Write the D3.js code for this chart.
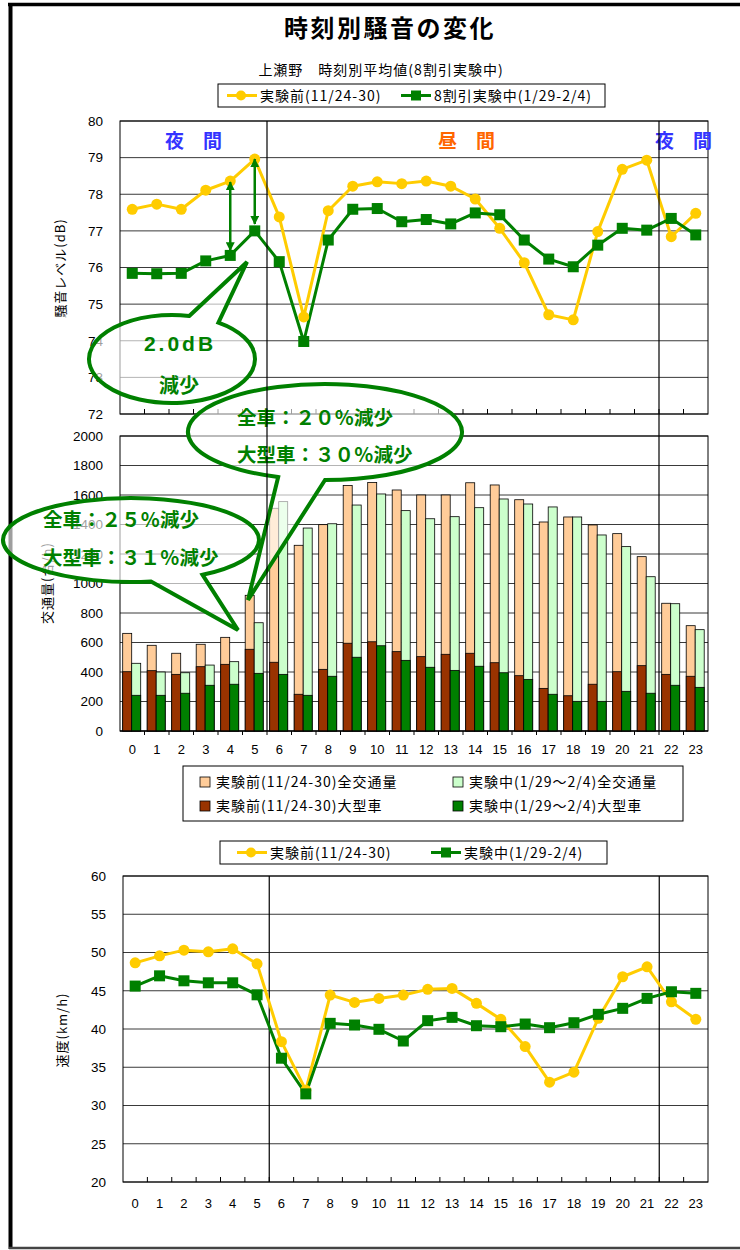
<!DOCTYPE html>
<html>
<head>
<meta charset="utf-8">
<script src="https://cdn.jsdelivr.net/npm/d3@7"></script>
<style>
  body { margin: 0; background: #fff; }
</style>
</head>
<body>
<svg id="chart" width="740" height="1250"></svg>
<script>
// hours of the day
const hours = ["0","1","2","3","4","5","6","7","8","9","10","11","12","13","14","15","16","17","18","19","20","21","22","23"];

// noise level (dB)
const noiseTicks = [72, 73, 74, 75, 76, 77, 78, 79, 80];
const noiseBefore = [77.59,77.73,77.59,78.11,78.36,78.96,77.38,74.65,77.55,78.22,78.34,78.29,78.36,78.22,77.87,77.07,76.13,74.71,74.57,76.98,78.68,78.93,76.84,77.48];
const noiseDuring = [75.84,75.83,75.84,76.18,76.33,77.00,76.16,73.98,76.75,77.59,77.61,77.25,77.31,77.19,77.49,77.44,76.75,76.23,76.02,76.61,77.07,77.02,77.34,76.89];

// traffic volume (vehicles)
const trafficTicks = [0, 200, 400, 600, 800, 1000, 1200, 1400, 1600, 1800, 2000];
const trafficBeforeAll = [662,581,527,588,635,920,1510,1259,1399,1665,1685,1634,1600,1600,1683,1668,1568,1417,1451,1397,1338,1182,866,714];
const trafficDuringAll = [459,400,395,447,470,734,1555,1376,1405,1532,1607,1494,1439,1453,1514,1573,1539,1519,1451,1329,1250,1046,863,687];
const trafficBeforeLarge = [402,409,384,436,452,554,466,249,418,595,605,538,504,520,527,463,375,289,239,317,402,443,384,371];
const trafficDuringLarge = [242,242,256,310,317,391,384,242,371,500,578,479,432,411,439,395,350,249,201,201,269,256,310,296];

// speed (km/h)
const speedTicks = [20, 25, 30, 35, 40, 45, 50, 55, 60];
const speedBefore = [48.65,49.56,50.31,50.09,50.48,48.52,38.34,32.0,44.44,43.48,44.0,44.44,45.18,45.31,43.35,41.27,37.7,33.05,34.35,41.4,46.83,48.13,43.56,41.27];
const speedDuring = [45.61,46.95,46.3,46.04,46.04,44.47,36.18,31.52,40.74,40.52,39.96,38.43,41.09,41.52,40.43,40.3,40.65,40.17,40.82,41.92,42.7,44.0,44.87,44.66];

const YELLOW = "#ffcc00", GREEN = "#008000";
const numFont = "'Liberation Sans', Arial, sans-serif";
const jpFont = "'Noto Sans CJK JP', 'Liberation Sans', sans-serif";

const svg = d3.select("#chart");

// arrow head for the double arrows
svg.append("defs").append("marker")
  .attr("id", "arrow")
  .attr("viewBox", "0 0 10 10")
  .attr("refX", 9).attr("refY", 5)
  .attr("markerWidth", 9).attr("markerHeight", 9)
  .attr("markerUnits", "userSpaceOnUse")
  .attr("orient", "auto-start-reverse")
  .append("path").attr("d", "M0,0 L10,5 L0,10 z").attr("fill", GREEN);

// page frame
svg.append("line").attr("x1", 8).attr("x2", 740).attr("y1", 4.5).attr("y2", 4.5).attr("stroke", "#000").attr("stroke-width", 3.5);
svg.append("line").attr("x1", 10.5).attr("x2", 10.5).attr("y1", 3).attr("y2", 1249).attr("stroke", "#000").attr("stroke-width", 4);
svg.append("line").attr("x1", 9).attr("x2", 740).attr("y1", 1248).attr("y2", 1248).attr("stroke", "#444").attr("stroke-width", 2.5);

// titles
svg.append("text").attr("x", 390).attr("y", 37).attr("text-anchor", "middle")
  .attr("font-family", jpFont).attr("font-weight", "bold").attr("font-size", 24)
  .attr("letter-spacing", 2.5).text("時刻別騒音の変化");
svg.append("text").attr("x", 381).attr("y", 75).attr("text-anchor", "middle")
  .attr("font-family", jpFont).attr("font-size", 14).attr("letter-spacing", 1)
  .text("上瀬野　時刻別平均値(8割引実験中)");

function gridAndFrame(x0, x1, y, ticks) {
  svg.append("g").selectAll("line").data(ticks).join("line")
    .attr("x1", x0).attr("x2", x1)
    .attr("y1", d => y(d)).attr("y2", d => y(d))
    .attr("stroke", "#3a3a3a").attr("stroke-width", 1);
  const [yb, yt] = y.range();
  svg.append("rect").attr("x", x0).attr("y", yt).attr("width", x1 - x0).attr("height", yb - yt)
    .attr("fill", "none").attr("stroke", "#000").attr("stroke-width", 1);
}

function yAxis(y, ticks, left) {
  const g = svg.append("g").attr("transform", `translate(${left},0)`)
    .call(d3.axisLeft(y).tickValues(ticks).tickFormat(d3.format("d")).tickSize(0).tickPadding(17));
  g.select(".domain").remove();
  g.selectAll("text").attr("font-family", numFont).attr("font-size", 13.5).attr("fill", "#000");
}

function xLabels(x, top, pad) {
  const g = svg.append("g").attr("transform", `translate(0,${top})`)
    .call(d3.axisBottom(x).tickSize(0).tickPadding(pad));
  g.select(".domain").remove();
  g.selectAll("text").attr("font-family", numFont).attr("font-size", 13).attr("fill", "#000");
}

function hourTicks(x, yAxisPos, len) {
  svg.append("g").selectAll("line").data(hours.slice(1)).join("line")
    .attr("x1", d => x(d)).attr("x2", d => x(d))
    .attr("y1", yAxisPos).attr("y2", yAxisPos + len)
    .attr("stroke", "#000").attr("stroke-width", 1);
}

function lineSeries(x, y, values, color) {
  const line = d3.line().x((d, i) => x(hours[i]) + x.bandwidth() / 2).y(d => y(d));
  svg.append("path").datum(values).attr("d", line)
    .attr("fill", "none").attr("stroke", color).attr("stroke-width", 3).attr("stroke-linejoin", "round");
}
function circles(x, y, values) {
  svg.append("g").selectAll("circle").data(values).join("circle")
    .attr("cx", (d, i) => x(hours[i]) + x.bandwidth() / 2)
    .attr("cy", d => y(d)).attr("r", 5.5).attr("fill", YELLOW);
}
function squares(x, y, values) {
  svg.append("g").selectAll("rect").data(values).join("rect")
    .attr("x", (d, i) => x(hours[i]) + x.bandwidth() / 2 - 5.5)
    .attr("y", d => y(d) - 5.5).attr("width", 11).attr("height", 11).attr("fill", GREEN);
}

function lineLegend(bx, by, bw, items) {
  svg.append("rect").attr("x", bx).attr("y", by).attr("width", bw).attr("height", 23)
    .attr("fill", "#fff").attr("stroke", "#000").attr("stroke-width", 1);
  const cy = by + 11.5;
  items.forEach(it => {
    svg.append("line").attr("x1", it.x).attr("x2", it.x + 30).attr("y1", cy).attr("y2", cy)
      .attr("stroke", it.color).attr("stroke-width", 3);
    if (it.shape === "circle") {
      svg.append("circle").attr("cx", it.x + 14).attr("cy", cy).attr("r", 5).attr("fill", it.color);
    } else {
      svg.append("rect").attr("x", it.x + 10).attr("y", cy - 5).attr("width", 10).attr("height", 10).attr("fill", it.color);
    }
    svg.append("text").attr("x", it.x + 33).attr("y", cy + 5)
      .attr("font-family", jpFont).attr("font-size", 14).attr("letter-spacing", 1).text(it.label);
  });
}

// ---------- chart 1 : noise ----------
const x1 = d3.scaleBand().domain(hours).range([120, 708]);
const y1 = d3.scaleLinear().domain([72, 80]).range([414, 121]);

lineLegend(218, 84, 387, [
  { x: 227, color: YELLOW, shape: "circle", label: "実験前(11/24-30)" },
  { x: 401, color: GREEN, shape: "square", label: "8割引実験中(1/29-2/4)" }
]);

gridAndFrame(120, 708, y1, noiseTicks);
yAxis(y1, noiseTicks, 120);
hourTicks(x1, 414, -5);

svg.append("text").attr("transform", "translate(65,268) rotate(-90)").attr("text-anchor", "middle")
  .attr("font-family", jpFont).attr("font-size", 13).attr("letter-spacing", 1).text("騒音レベル(dB)");

[["夜　間", 193.5, "#3333ff"], ["昼　間", 466.5, "#ff6600"], ["夜　間", 683.5, "#3333ff"]].forEach(([t, x, c]) => {
  svg.append("text").attr("x", x).attr("y", 148).attr("text-anchor", "middle")
    .attr("font-family", jpFont).attr("font-weight", "bold").attr("font-size", 19).attr("fill", c).text(t);
});

lineSeries(x1, y1, noiseBefore, YELLOW);
lineSeries(x1, y1, noiseDuring, GREEN);
circles(x1, y1, noiseBefore);
squares(x1, y1, noiseDuring);

// double arrows showing the reduction at 4 and 5 o'clock
[[4, 1, -5], [5, 0, -7]].forEach(([i, a, b]) => {
  const cx = x1(hours[i]) + x1.bandwidth() / 2;
  svg.append("line").attr("x1", cx).attr("x2", cx)
    .attr("y1", y1(noiseBefore[i]) + a).attr("y2", y1(noiseDuring[i]) + b)
    .attr("stroke", GREEN).attr("stroke-width", 2.5)
    .attr("marker-start", "url(#arrow)").attr("marker-end", "url(#arrow)");
});

// ---------- chart 2 : traffic ----------
const x2 = d3.scaleBand().domain(hours).range([120, 708]);
const y2 = d3.scaleLinear().domain([0, 2000]).range([731, 436]);
const barW = 9;

gridAndFrame(120, 708, y2, trafficTicks);
yAxis(y2, trafficTicks, 120);

const barSets = [
  { values: trafficBeforeAll, color: "#ffcc99", off: 2.7 },
  { values: trafficBeforeLarge, color: "#993300", off: 2.7 },
  { values: trafficDuringAll, color: "#ccffcc", off: 11.7 },
  { values: trafficDuringLarge, color: GREEN, off: 11.7 }
];
barSets.forEach(s => {
  svg.append("g").selectAll("rect").data(s.values).join("rect")
    .attr("x", (d, i) => x2(hours[i]) + s.off)
    .attr("y", d => y2(d)).attr("width", barW).attr("height", d => y2(0) - y2(d))
    .attr("fill", s.color).attr("stroke", "#000").attr("stroke-width", 0.8);
});
svg.append("line").attr("x1", 120).attr("x2", 708).attr("y1", 731).attr("y2", 731).attr("stroke", "#000");
hourTicks(x2, 731, 4);
xLabels(x2, 731, 14);

svg.append("text").attr("transform", "translate(52,583) rotate(-90)").attr("text-anchor", "middle")
  .attr("font-family", jpFont).attr("font-size", 13).attr("letter-spacing", 1).text("交通量(台/h)");

// bar legend
svg.append("rect").attr("x", 183).attr("y", 766).attr("width", 500).attr("height", 55)
  .attr("fill", "#fff").attr("stroke", "#000").attr("stroke-width", 1);
[
  { x: 200, y: 782, color: "#ffcc99", label: "実験前(11/24-30)全交通量" },
  { x: 453, y: 782, color: "#ccffcc", label: "実験中(1/29～2/4)全交通量" },
  { x: 200, y: 806, color: "#993300", label: "実験前(11/24-30)大型車" },
  { x: 453, y: 806, color: GREEN, label: "実験中(1/29～2/4)大型車" }
].forEach(it => {
  svg.append("rect").attr("x", it.x).attr("y", it.y - 5).attr("width", 10).attr("height", 10)
    .attr("fill", it.color).attr("stroke", "#000").attr("stroke-width", 0.8);
  svg.append("text").attr("x", it.x + 16).attr("y", it.y + 5)
    .attr("font-family", jpFont).attr("font-size", 14).attr("letter-spacing", 1).text(it.label);
});

// ---------- callouts ----------
function callout(c) {
  const pt = a => [c.cx + c.rx * Math.cos(a * Math.PI / 180), c.cy + c.ry * Math.sin(a * Math.PI / 180)];
  const p1 = pt(c.a1), p2 = pt(c.a2);
  svg.append("path")
    .attr("d", `M${p1} L${c.tip} L${p2} A${c.rx},${c.ry} 0 1 1 ${p1} Z`)
    .attr("fill", "rgba(255,255,255,0.62)").attr("stroke", GREEN).attr("stroke-width", 4)
    .attr("stroke-linejoin", "miter");
  c.lines.forEach(l => {
    svg.append("text").attr("x", l.x).attr("y", l.y).attr("text-anchor", l.anchor || "start")
      .attr("font-family", l.font || jpFont).attr("font-weight", "bold")
      .attr("font-size", l.size || 19.5).attr("letter-spacing", l.ls || 0)
      .attr("fill", GREEN).text(l.t);
  });
}

callout({ cx: 172, cy: 359, rx: 83, ry: 44, a1: -78, a2: -56, tip: [247, 262],
  lines: [
    { t: "2.0dB", x: 180, y: 351, anchor: "middle", font: numFont, size: 21, ls: 3 },
    { t: "減少", x: 179, y: 393, anchor: "middle", size: 20 }
  ] });
callout({ cx: 325, cy: 432, rx: 137, ry: 48, a1: 90, a2: 110, tip: [248, 600],
  lines: [
    { t: "全車：２０％減少", x: 237, y: 425 },
    { t: "大型車：３０％減少", x: 237, y: 462 }
  ] });
callout({ cx: 131, cy: 540, rx: 128, ry: 42, a1: 56, a2: 81, tip: [238, 630],
  lines: [
    { t: "全車：２５％減少", x: 43, y: 527 },
    { t: "大型車：３１％減少", x: 43, y: 565 }
  ] });

// day / night dividers (drawn over the callouts)
["6", "22"].forEach(h => {
  svg.append("line").attr("x1", x1(h)).attr("x2", x1(h)).attr("y1", 121).attr("y2", 731)
    .attr("stroke", "#000").attr("stroke-width", 1.2);
});

// ---------- chart 3 : speed ----------
const x3 = d3.scaleBand().domain(hours).range([123, 708]);
const y3 = d3.scaleLinear().domain([20, 60]).range([1182, 876]);

lineLegend(220, 841, 387, [
  { x: 237, color: YELLOW, shape: "circle", label: "実験前(11/24-30)" },
  { x: 431, color: GREEN, shape: "square", label: "実験中(1/29-2/4)" }
]);

gridAndFrame(123, 708, y3, speedTicks);
yAxis(y3, speedTicks, 123);
hourTicks(x3, 1182, -5);
xLabels(x3, 1182, 17);

svg.append("text").attr("transform", "translate(67,1030) rotate(-90)").attr("text-anchor", "middle")
  .attr("font-family", jpFont).attr("font-size", 13).attr("letter-spacing", 1).text("速度(km/h)");

["6", "22"].forEach(h => {
  svg.append("line").attr("x1", x3(h)).attr("x2", x3(h)).attr("y1", 876).attr("y2", 1182)
    .attr("stroke", "#000").attr("stroke-width", 1.2);
});

lineSeries(x3, y3, speedBefore, YELLOW);
lineSeries(x3, y3, speedDuring, GREEN);
circles(x3, y3, speedBefore);
squares(x3, y3, speedDuring);
</script>
</body>
</html>
